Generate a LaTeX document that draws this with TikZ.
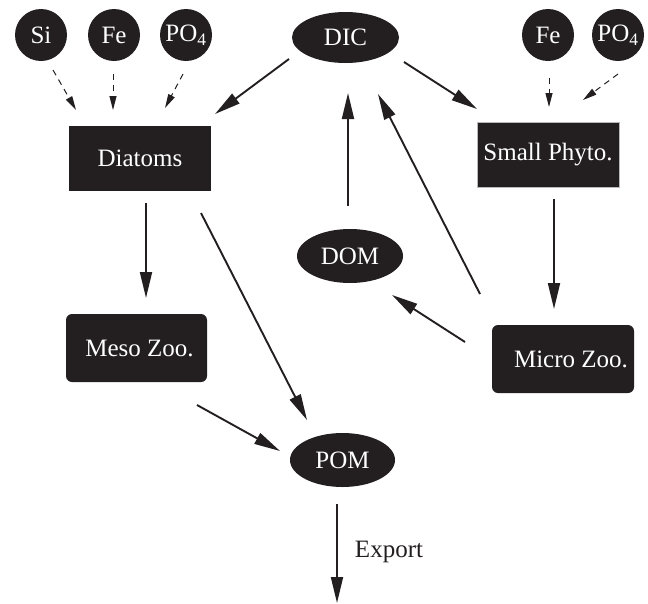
\documentclass[tikz,border=0pt]{standalone}
\usepackage{fontspec}
\setmainfont{Liberation Serif}
\usetikzlibrary{arrows.meta,calc,shapes.geometric}
\definecolor{ink}{HTML}{231F20}
\tikzset{
  base/.style={fill=ink, text=white, inner sep=0pt, font=\fontsize{25}{29}\selectfont},
  nut/.style={base, circle, minimum size=52pt},
  pool/.style={base, ellipse},
  sqbox/.style={base, rectangle, minimum width=142pt, minimum height=65pt},
  rbox/.style={base, rectangle, rounded corners=6pt, minimum width=142pt, minimum height=68pt},
  flow/.style={draw=ink, line width=1.9pt, -{Triangle[length=26pt,width=12pt]}},
  supply/.style={draw=ink, line width=1pt, dash pattern=on 6pt off 5pt, -{Triangle[length=14pt,width=7pt]}}
}
\begin{document}
\begin{tikzpicture}[x=1pt,y=-1pt]
\useasboundingbox (0,0) rectangle (648,603);
% nutrients
\node[nut] (si) at (41,35) {Si};
\node[nut] (fea) at (114,35) {Fe};
\node[nut] (poa) at (186,35) {PO\textsubscript{4}};
\node[nut] (feb) at (548,35) {Fe};
\node[nut] (pob) at (618,35) {PO\textsubscript{4}};
% pools
\node[pool, minimum width=107pt, minimum height=51pt] (dic) at (345.5,37.5) {DIC};
\node[pool, minimum width=106pt, minimum height=54pt] (dom) at (350,256) {DOM};
\node[pool, minimum width=105pt, minimum height=54pt] (pom) at (342.5,460) {POM};
% boxes
\node[sqbox] (diatoms) at (140,158.5) {Diatoms};
\node[sqbox, draw=gray!55, line width=0.8pt] (phyto) at (548,154.5) {Small Phyto.};
\node[rbox, minimum width=141pt] (meso) at (136.5,348) {\hspace*{6pt}Meso Zoo.};
\node[rbox] (micro) at (563,359) {\hspace*{16pt}Micro Zoo.};
% supply arrows
\draw[supply] ($(si)+(12,35)$) -- ($(diatoms)+(-64,-48.5)$);
\draw[supply] ($(fea)+(-1,39)$) -- ($(diatoms)+(-27,-48.5)$);
\draw[supply] ($(poa)+(-3,39)$) -- ($(diatoms)+(25,-50.5)$);
\draw[supply] ($(feb)+(1,43)$) -- ($(phyto)+(1,-47.5)$);
\draw[supply] ($(pob)+(0,39)$) -- ($(phyto)+(35,-54.5)$);
% fluxes
\draw[flow] ($(dic)+(-56.5,21.5)$) -- ($(diatoms)+(75,-44.5)$);
\draw[flow] ($(dic)+(58.5,24.5)$) -- ($(phyto)+(-71,-45.5)$);
\draw[flow] ($(dom)+(-2,-50)$) -- ($(dic)+(2.5,55.5)$);
\draw[flow] ($(micro)+(-83,-65)$) -- ($(dic)+(32.5,56.5)$);
\draw[flow] ($(diatoms)+(6,44.5)$) -- ($(meso)+(9.5,-50)$);
\draw[flow] ($(diatoms)+(61,54.5)$) -- ($(pom)+(-35.5,-40)$);
\draw[flow] ($(phyto)+(6,44.5)$) -- ($(micro)+(-9,-50)$);
\draw[flow] ($(micro)+(-98,-17)$) -- ($(dom)+(42,39)$);
\draw[flow] ($(meso)+(60.5,57)$) -- ($(pom)+(-62.5,-9)$);
% export
\coordinate (sink) at (337,603);
\draw[flow] ($(pom)+(-5.5,44)$) -- (sink);
\node[font=\fontsize{25}{29}\selectfont, text=ink, inner sep=0pt] (exportlbl) at (389,552) {Export};
\end{tikzpicture}
\end{document}
